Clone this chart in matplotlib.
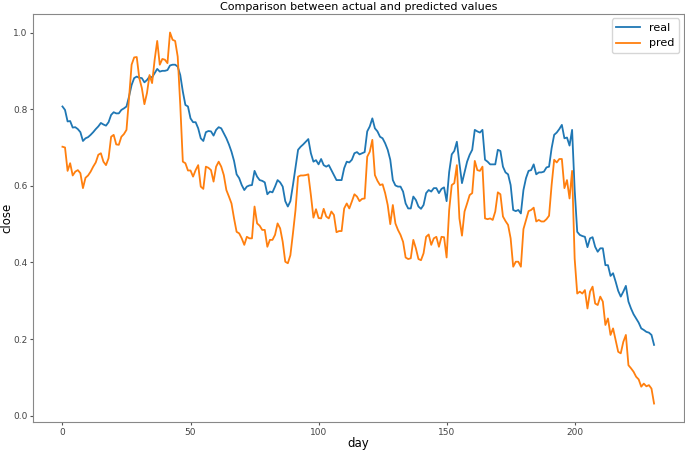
import numpy as np
import matplotlib.pyplot as plt

real = [
    0.807, 0.798, 0.768, 0.769, 0.752, 0.753, 0.748, 0.740, 0.717, 0.724,
    0.727, 0.733, 0.740, 0.748, 0.755, 0.764, 0.760, 0.757, 0.766, 0.785,
    0.792, 0.789, 0.789, 0.798, 0.802, 0.807, 0.833, 0.863, 0.881, 0.885,
    0.882, 0.881, 0.870, 0.876, 0.885, 0.883, 0.894, 0.905, 0.898, 0.900,
    0.900, 0.902, 0.914, 0.916, 0.916, 0.911, 0.889, 0.846, 0.811, 0.807,
    0.776, 0.766, 0.766, 0.750, 0.724, 0.717, 0.740, 0.743, 0.742, 0.731,
    0.746, 0.753, 0.750, 0.737, 0.724, 0.708, 0.689, 0.665, 0.630, 0.620,
    0.602, 0.589, 0.598, 0.601, 0.602, 0.639, 0.624, 0.615, 0.613, 0.609,
    0.578, 0.585, 0.583, 0.598, 0.615, 0.609, 0.598, 0.560, 0.546, 0.560,
    0.602, 0.648, 0.694, 0.702, 0.708, 0.715, 0.722, 0.685, 0.663, 0.667,
    0.656, 0.670, 0.654, 0.650, 0.654, 0.641, 0.628, 0.615, 0.615, 0.615,
    0.646, 0.663, 0.661, 0.668, 0.685, 0.688, 0.682, 0.685, 0.688, 0.742,
    0.755, 0.776, 0.750, 0.742, 0.728, 0.724, 0.711, 0.694, 0.668, 0.615,
    0.601, 0.598, 0.598, 0.585, 0.554, 0.541, 0.541, 0.572, 0.563, 0.546,
    0.540, 0.550, 0.581, 0.589, 0.585, 0.594, 0.594, 0.581, 0.592, 0.596,
    0.560, 0.636, 0.682, 0.691, 0.715, 0.659, 0.607, 0.635, 0.663, 0.681,
    0.694, 0.746, 0.742, 0.739, 0.746, 0.668, 0.663, 0.656, 0.656, 0.656,
    0.694, 0.691, 0.650, 0.635, 0.630, 0.602, 0.537, 0.534, 0.537, 0.528,
    0.589, 0.620, 0.639, 0.641, 0.656, 0.630, 0.635, 0.635, 0.637, 0.648,
    0.650, 0.698, 0.733, 0.739, 0.748, 0.759, 0.724, 0.726, 0.705, 0.746,
    0.590, 0.480, 0.472, 0.469, 0.467, 0.440, 0.463, 0.466, 0.441, 0.428,
    0.437, 0.437, 0.393, 0.393, 0.365, 0.372, 0.350, 0.326, 0.311, 0.324,
    0.339, 0.298, 0.280, 0.265, 0.254, 0.243, 0.228, 0.224, 0.219, 0.217,
    0.211, 0.185,
]

pred = [
    0.702, 0.700, 0.639, 0.659, 0.627, 0.637, 0.641, 0.633, 0.594, 0.621,
    0.627, 0.637, 0.650, 0.661, 0.681, 0.685, 0.663, 0.654, 0.672, 0.728,
    0.733, 0.708, 0.707, 0.728, 0.735, 0.746, 0.829, 0.916, 0.935, 0.936,
    0.881, 0.855, 0.813, 0.842, 0.889, 0.868, 0.929, 0.978, 0.916, 0.931,
    0.929, 0.920, 1.000, 0.981, 0.978, 0.937, 0.811, 0.663, 0.659, 0.640,
    0.640, 0.624, 0.641, 0.654, 0.598, 0.592, 0.650, 0.647, 0.641, 0.611,
    0.650, 0.663, 0.650, 0.628, 0.589, 0.572, 0.554, 0.515, 0.480, 0.476,
    0.463, 0.446, 0.467, 0.463, 0.463, 0.546, 0.502, 0.496, 0.485, 0.485,
    0.441, 0.459, 0.459, 0.472, 0.502, 0.489, 0.454, 0.402, 0.398, 0.419,
    0.476, 0.537, 0.624, 0.627, 0.627, 0.628, 0.630, 0.576, 0.517, 0.539,
    0.516, 0.515, 0.540, 0.520, 0.515, 0.533, 0.524, 0.479, 0.482, 0.482,
    0.541, 0.554, 0.541, 0.559, 0.578, 0.572, 0.560, 0.566, 0.567, 0.676,
    0.689, 0.720, 0.628, 0.613, 0.602, 0.604, 0.581, 0.550, 0.500, 0.550,
    0.502, 0.485, 0.472, 0.454, 0.413, 0.409, 0.411, 0.459, 0.437, 0.409,
    0.406, 0.424, 0.467, 0.473, 0.446, 0.463, 0.467, 0.441, 0.467, 0.466,
    0.413, 0.537, 0.602, 0.607, 0.654, 0.515, 0.470, 0.533, 0.554, 0.576,
    0.581, 0.665, 0.641, 0.639, 0.650, 0.515, 0.513, 0.515, 0.511, 0.533,
    0.583, 0.578, 0.520, 0.508, 0.498, 0.463, 0.389, 0.402, 0.402, 0.389,
    0.487, 0.511, 0.534, 0.537, 0.543, 0.507, 0.511, 0.507, 0.507, 0.513,
    0.522, 0.602, 0.668, 0.661, 0.670, 0.670, 0.594, 0.615, 0.567, 0.639,
    0.410, 0.319, 0.324, 0.319, 0.328, 0.280, 0.324, 0.337, 0.293, 0.289,
    0.311, 0.298, 0.237, 0.254, 0.211, 0.228, 0.198, 0.167, 0.163, 0.193,
    0.211, 0.132, 0.124, 0.115, 0.102, 0.095, 0.076, 0.084, 0.077, 0.080,
    0.071, 0.032,
]

days = np.arange(len(real))

fig = plt.figure(figsize=(6.85, 4.5), dpi=100)
ax = fig.add_axes([0.048, 0.062, 0.95, 0.907])

ax.plot(days, real, color='tab:blue', lw=1.3, label='real')
ax.plot(days, pred, color='tab:orange', lw=1.3, label='pred')

ax.set_title("Comparison between actual and predicted values", fontsize=8, pad=3)
ax.set_xlabel("day", fontsize=8.5, labelpad=0)
ax.set_ylabel("close", fontsize=8.5, labelpad=0)
ax.tick_params(labelsize=6.5, colors='#555555', labelcolor='#444444',
               length=2.5, pad=1.5)
for s in ax.spines.values():
    s.set_color('#888888')
ax.legend(loc='upper right', fontsize=8, handlelength=2.2, borderaxespad=0.4)

plt.savefig('out.png', dpi=100)
